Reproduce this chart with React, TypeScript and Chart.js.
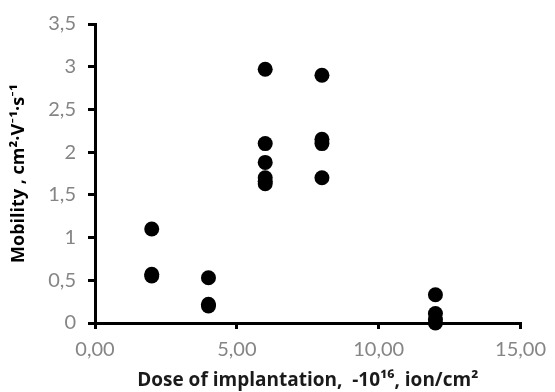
import React, { useEffect, useRef } from "react";
import { Chart, registerables } from "chart.js";

Chart.register(...registerables);

const doses = [2, 2, 2, 4, 4, 4, 6, 6, 6, 6, 6, 6, 8, 8, 8, 8, 12, 12, 12, 12];
const mobility = [1.1, 0.57, 0.55, 0.53, 0.22, 0.2, 2.97, 2.1, 1.88, 1.7, 1.66, 1.63, 2.9, 2.15, 2.1, 1.7, 0.33, 0.11, 0.04, 0];

const xTitle = "Dose of implantation,  -10¹⁶, ion/cm²";
const yTitle = "Mobility , cm²·V⁻¹·s⁻¹";

const FONT = "Lato, 'Open Sans', sans-serif";
const TITLE_FONT = "'Open Sans', Lato, sans-serif";

export default function App() {
  const ref = useRef<HTMLCanvasElement | null>(null);
  useEffect(() => {
    if (!ref.current) return;
    const points = doses.map((d, i) => ({ x: d, y: mobility[i] }));
    const chart = new Chart(ref.current, {
      type: "scatter",
      data: {
        datasets: [
          {
            data: points,
            backgroundColor: "#000",
            borderColor: "#000",
            pointRadius: 7.5,
            pointHoverRadius: 7.5,
            borderWidth: 0,
            clip: false as any,
          },
        ],
      },
      options: {
        responsive: false,
        animation: false,
        devicePixelRatio: 1,
        layout: { padding: { top: 23, right: 30, bottom: 0, left: 0 } },
        plugins: { legend: { display: false }, tooltip: { enabled: false } },
        scales: {
          x: {
            type: "linear",
            min: 0,
            max: 15,
            afterFit: (s: any) => {
              s.height = 69;
            },
            ticks: {
              stepSize: 5,
              color: "#858585",
              padding: 9,
              font: { family: FONT, size: 20 },
              callback: (v: any) => Number(v).toFixed(2).replace(".", ","),
            },
            grid: {
              drawOnChartArea: false,
              tickLength: 6,
              color: "#000",
              lineWidth: 3,
            },
            border: { color: "#000", width: 3 },
            title: {
              display: true,
              text: xTitle,
              color: "#1a1a1a",
              font: { family: TITLE_FONT, size: 19, weight: "bold" },
              padding: { top: 0, bottom: 0 },
            },
          },
          y: {
            type: "linear",
            min: 0,
            max: 3.5,
            afterFit: (s: any) => {
              s.width = 95;
            },
            ticks: {
              stepSize: 0.5,
              color: "#858585",
              padding: 12,
              font: { family: FONT, size: 20 },
              callback: (v: any) => String(v).replace(".", ","),
            },
            grid: {
              drawOnChartArea: false,
              tickLength: 7,
              color: "#000",
              lineWidth: 3,
            },
            border: { color: "#000", width: 3 },
            title: {
              display: true,
              text: yTitle,
              color: "#000",
              font: { family: TITLE_FONT, size: 18, weight: "bold" },
              padding: { top: 8, bottom: 0 },
            },
          },
        },
      },
    });
    return () => chart.destroy();
  }, []);
  return (
    <div style={{ position: "fixed", left: 0, top: 0, width: 555, height: 392, background: "#fff" }}>
      <canvas ref={ref} width={555} height={392} style={{ display: "block" }} />
    </div>
  );
}
